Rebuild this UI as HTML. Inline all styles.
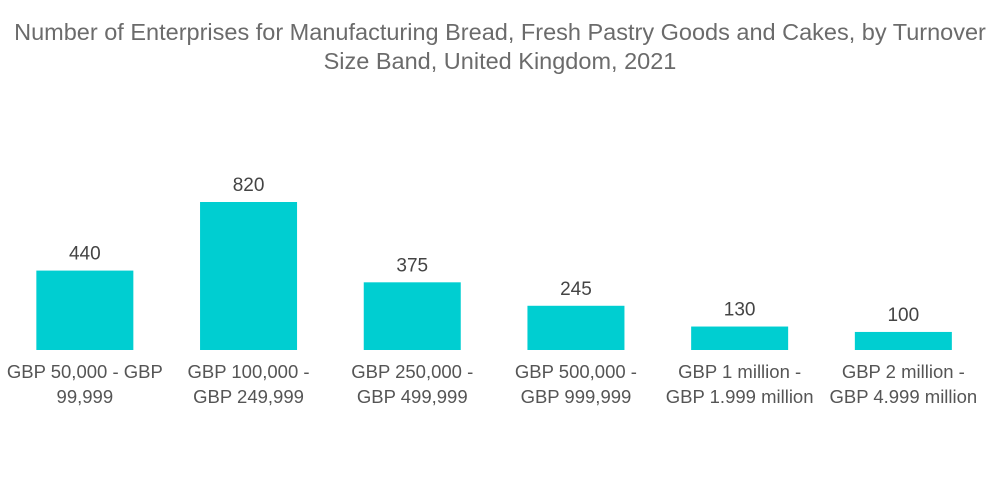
<!DOCTYPE html>
<html><head><meta charset="utf-8"><style>
body{margin:0;background:#fff;font-family:"Liberation Sans",sans-serif;}
#c{position:relative;width:1000px;height:504px;overflow:hidden}
.t{position:absolute;left:0;width:1000px;text-align:center;color:#6b6b6b;font-size:23.5px;line-height:29px;top:18px;white-space:nowrap}
</style></head><body>
<div id="c">
<div class="t">Number of Enterprises for Manufacturing Bread, Fresh Pastry Goods and Cakes, by Turnover<br>Size Band, United Kingdom, 2021</div>
<svg id="s" width="1000" height="504" style="position:absolute;left:0;top:0"></svg>
</div>
<script>
const categories=[["GBP 50,000 - GBP","99,999"],["GBP 100,000 -","GBP 249,999"],["GBP 250,000 -","GBP 499,999"],["GBP 500,000 -","GBP 999,999"],["GBP 1 million -","GBP 1.999 million"],["GBP 2 million -","GBP 4.999 million"]];
const values=[440,820,375,245,130,100];
const valueLabels=["440","820","375","245","130","100"];
const base=350,scale=148/820,x0=3,band=163.7,bw=97;
const y=v=>base-v*scale;
const xc=i=>x0+band*(i+0.5);
const s=document.getElementById('s');const NS='http://www.w3.org/2000/svg';
values.forEach((v,i)=>{
 const r=document.createElementNS(NS,'rect');
 
 
 r.setAttribute('x',xc(i)-bw/2);r.setAttribute('y',y(v));r.setAttribute('width',bw);r.setAttribute('height',base-y(v));r.setAttribute('fill','#00ced1');s.appendChild(r);
 const t=document.createElementNS(NS,'text');
 
 
 t.setAttribute('x',xc(i));t.setAttribute('y',y(v)-11);t.setAttribute('text-anchor','middle');t.setAttribute('font-size','19');t.setAttribute('fill','#444');t.setAttribute('font-family','Liberation Sans, sans-serif');t.textContent=valueLabels[i];s.appendChild(t);
 categories[i].forEach((ln,j)=>{
  const c=document.createElementNS(NS,'text');
  
  
  c.setAttribute('x',xc(i));c.setAttribute('y',378+j*25);c.setAttribute('text-anchor','middle');c.setAttribute('font-size','18.5');c.setAttribute('fill','#555');c.setAttribute('font-family','Liberation Sans, sans-serif');c.textContent=ln;s.appendChild(c);
 });
});
</script>
</body></html>
